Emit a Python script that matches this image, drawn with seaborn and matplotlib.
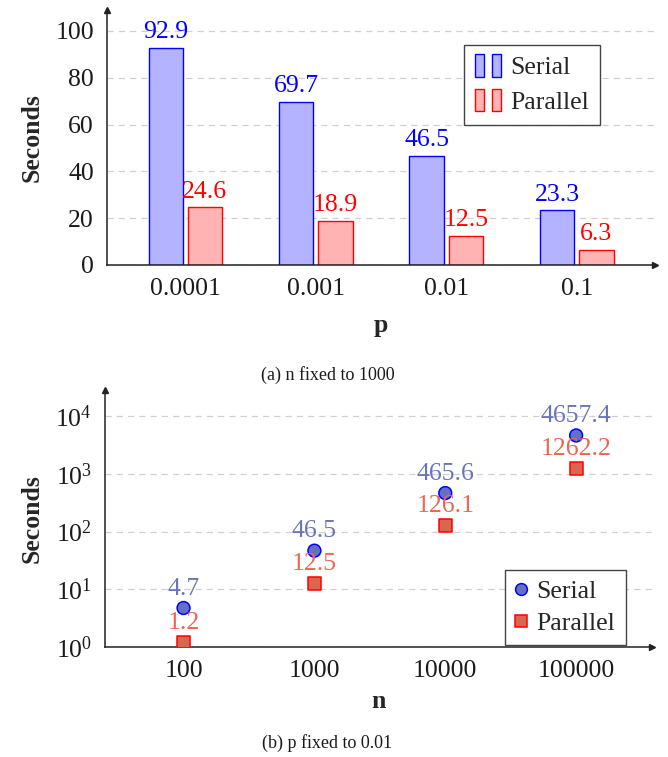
import matplotlib
matplotlib.use("Agg")
import matplotlib.pyplot as plt
from matplotlib.patches import Rectangle
from matplotlib.lines import Line2D
from matplotlib.legend_handler import HandlerBase
from matplotlib.ticker import FixedLocator, LogFormatterSciNotation, NullLocator
import seaborn as sns
import pandas as pd

# --- data -------------------------------------------------------------
p_values = ["0.0001", "0.001", "0.01", "0.1"]
serial_p = [92.9, 69.7, 46.5, 23.3]
parallel_p = [24.6, 18.9, 12.5, 6.3]

n_values = [100, 1000, 10000, 100000]
serial_n = [4.7, 46.5, 465.6, 4657.4]
parallel_n = [1.2, 12.5, 126.1, 1262.2]

methods = ["Serial", "Parallel"]

# --- style ------------------------------------------------------------
sns.set_theme(style="white")
plt.rcParams["font.family"] = ["Liberation Serif", "DejaVu Serif"]
plt.rcParams["mathtext.fontset"] = "stix"

BAR_FILL = {"Serial": "#b3b3ff", "Parallel": "#ffb3b3"}
BAR_EDGE = {"Serial": "#0000ff", "Parallel": "#ff0000"}
PT_FILL = {"Serial": "#6670c2", "Parallel": "#da6650"}
PT_TEXT = {"Serial": "#6a74b8", "Parallel": "#f0654f"}
FS = 18.5

fig = plt.figure(figsize=(6.68, 7.57), dpi=100)
ax1 = fig.add_axes([0.1602, 0.650, 0.8204, 0.337])
ax2 = fig.add_axes([0.1572, 0.1457, 0.8189, 0.3393])


def style_axes(ax):
    for side in ("top", "right"):
        ax.spines[side].set_visible(False)
    for side in ("left", "bottom"):
        ax.spines[side].set_color("#222222")
        ax.spines[side].set_linewidth(1.1)
    ax.tick_params(axis="both", which="major", direction="inout", length=7,
                   width=0.9, color="#999999", labelsize=FS, labelcolor="#1a1a1a",
                   pad=6)
    ax.yaxis.grid(True, linestyle=(0, (5, 4)), color="#d0d0d0", linewidth=0.9)
    ax.set_axisbelow(True)
    # arrow heads on both axes
    ax.plot(1, 0, ">", transform=ax.transAxes, clip_on=False, color="#222222",
            markersize=5)
    ax.plot(0, 1, "^", transform=ax.transAxes, clip_on=False, color="#222222",
            markersize=5)


class TwoBarHandler(HandlerBase):
    """Legend key made of two slim bars, one per side."""

    def create_artists(self, legend, orig_handle, xdescent, ydescent,
                       width, height, fontsize, trans):
        bw = width * 0.36
        h = height * 1.25
        y0 = -ydescent + height / 2 - h / 2
        out = []
        for x0 in (0.0, width * 0.64):
            out.append(Rectangle((x0 - xdescent, y0), bw, h,
                                 facecolor=orig_handle.get_facecolor(),
                                 edgecolor=orig_handle.get_edgecolor(),
                                 linewidth=1.0, transform=trans))
        return out


def frame(leg):
    leg.get_frame().set_edgecolor("#444444")
    leg.get_frame().set_linewidth(1.0)


# --- (a) bar chart over p ---------------------------------------------
df_p = pd.DataFrame({
    "p": p_values * 2,
    "Method": [methods[0]] * 4 + [methods[1]] * 4,
    "Seconds": serial_p + parallel_p,
})
sns.barplot(data=df_p, x="p", y="Seconds", hue="Method", order=p_values,
            hue_order=methods, palette=BAR_FILL, saturation=1, width=0.6,
            gap=0.12, ax=ax1, legend=False)
for cont, m in zip(ax1.containers, methods):
    for bar in cont:
        bar.set_edgecolor(BAR_EDGE[m])
        bar.set_linewidth(1.0)
    ax1.bar_label(cont, labels=[f"{v:.1f}" for v in cont.datavalues],
                  padding=3.5, color=BAR_EDGE[m], fontsize=FS)

style_axes(ax1)
ax1.set_xlim(-0.6, 3.6)
ax1.set_ylim(0, 109)
ax1.set_yticks([0, 20, 40, 60, 80, 100])
ax1.set_xlabel("p", fontsize=FS, fontweight="bold", labelpad=10)
ax1.set_ylabel("Seconds", fontsize=FS, fontweight="bold", labelpad=8)

handles1 = [Rectangle((0, 0), 1, 1, facecolor=BAR_FILL[m], edgecolor=BAR_EDGE[m])
            for m in methods]
leg1 = ax1.legend(handles1, methods, handler_map={Rectangle: TwoBarHandler()},
                  loc="upper right", bbox_to_anchor=(0.9, 0.863), fontsize=FS,
                  frameon=True, fancybox=False, framealpha=1, borderpad=0.45,
                  handlelength=1.0, handletextpad=0.35, labelspacing=0.45,
                  borderaxespad=0)
frame(leg1)

# --- (b) scatter over n (log-log) --------------------------------------
df_n = pd.DataFrame({
    "n": n_values * 2,
    "Method": [methods[0]] * 4 + [methods[1]] * 4,
    "Seconds": serial_n + parallel_n,
})
sns.scatterplot(data=df_n, x="n", y="Seconds", hue="Method", style="Method",
                hue_order=methods, style_order=methods,
                markers={"Serial": "o", "Parallel": "s"}, palette=PT_FILL,
                s=85, linewidth=1.1, ax=ax2, legend=False, zorder=3)
coll = ax2.collections[0]
coll.set_edgecolors([BAR_EDGE[m] for m in df_n["Method"]])

for m, vals in zip(methods, (serial_n, parallel_n)):
    for xv, yv in zip(n_values, vals):
        ax2.annotate(f"{yv:.1f}", (xv, yv), xytext=(0, 6),
                     textcoords="offset points", ha="center", va="bottom",
                     color=PT_TEXT[m], fontsize=FS, zorder=4)

style_axes(ax2)
ax2.set_xscale("log")
ax2.set_yscale("log")
ax2.set_xlim(10 ** 1.4, 10 ** 5.58)
ax2.set_ylim(1, 10 ** 4.46)
ax2.xaxis.set_major_locator(FixedLocator(n_values))
ax2.xaxis.set_minor_locator(NullLocator())
ax2.set_xticklabels([str(v) for v in n_values])
ax2.yaxis.set_major_locator(FixedLocator([1, 10, 100, 1000, 10000]))
ax2.yaxis.set_major_formatter(LogFormatterSciNotation())
ax2.yaxis.set_minor_locator(NullLocator())
ax2.set_xlabel("n", fontsize=FS, fontweight="bold", labelpad=6)
ax2.set_ylabel("Seconds", fontsize=FS, fontweight="bold", labelpad=8)

handles2 = [Line2D([], [], linestyle="none", marker=mk, markersize=8.5,
                   markerfacecolor=PT_FILL[m], markeredgecolor=BAR_EDGE[m],
                   markeredgewidth=1.1)
            for m, mk in zip(methods, ("o", "s"))]
leg2 = ax2.legend(handles2, methods, loc="upper right",
                  bbox_to_anchor=(0.952, 0.30), fontsize=FS, frameon=True,
                  fancybox=False, framealpha=1, borderpad=0.4,
                  handlelength=0.45, handletextpad=0.4, labelspacing=0.35,
                  borderaxespad=0)
frame(leg2)

# --- captions ---------------------------------------------------------
fig.text(0.49, 1 - 375 / 757, "(a) n fixed to 1000", ha="center",
         va="center", fontsize=13, color="#1a1a1a")
fig.text(0.49, 1 - 743 / 757, "(b) p fixed to 0.01", ha="center",
         va="center", fontsize=13, color="#1a1a1a")

fig.savefig("out.png", dpi=100)
